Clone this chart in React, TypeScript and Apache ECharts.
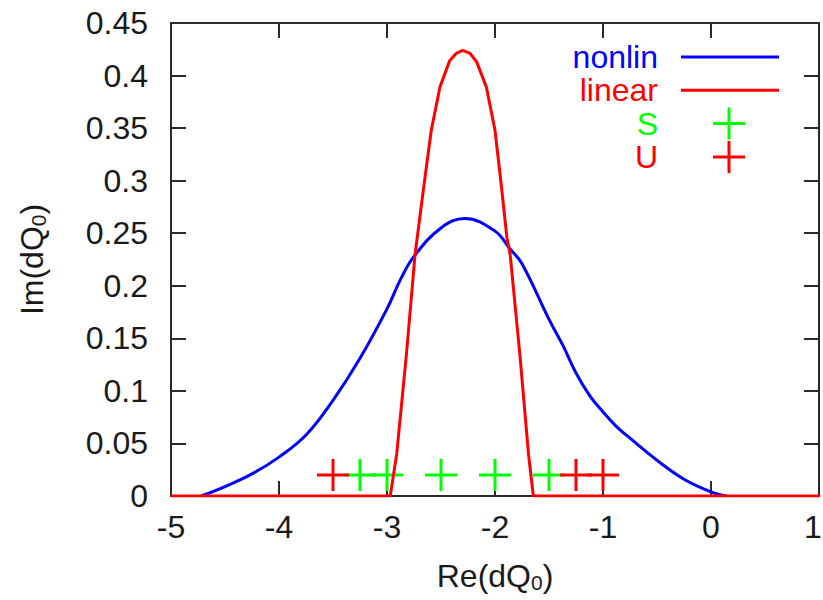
import React, { useEffect, useRef } from 'react';
import * as echarts from 'echarts';

const FONT = '"Liberation Sans", Arial, Helvetica, sans-serif';
const TEXT = '#1a1a1a';
const AXIS = '#2a2a2a';

// nonlin curve (blue)
const nonlinX = [-4.72, -4.5, -4.25, -4.0, -3.75, -3.5, -3.25, -3.0, -2.87, -2.75, -2.5, -2.28, -2.0, -1.86, -1.75, -1.5, -1.37, -1.25, -1.12, -1.0, -0.875, -0.75, -0.5, -0.25, 0.0, 0.15];
const nonlinY = [0, 0.009, 0.021, 0.037, 0.058, 0.091, 0.131, 0.178, 0.207, 0.228, 0.255, 0.264, 0.252, 0.235, 0.221, 0.168, 0.143, 0.117, 0.095, 0.08, 0.066, 0.055, 0.034, 0.016, 0.004, 0];

// linear curve (red)
const linearX = [-5, -2.97, -2.91, -2.82, -2.74, -2.66, -2.59, -2.51, -2.42, -2.36, -2.3, -2.23, -2.17, -2.08, -2.0, -1.94, -1.89, -1.86, -1.77, -1.69, -1.645, 1];
const linearY = [0, 0, 0.04, 0.135, 0.23, 0.294, 0.348, 0.389, 0.414, 0.421, 0.424, 0.421, 0.413, 0.389, 0.348, 0.294, 0.246, 0.23, 0.135, 0.04, 0, 0];

// S points (green) and U points (red)
const sX = [-3.25, -3.0, -2.5, -2.0, -1.5];
const sY = [0.02, 0.02, 0.02, 0.02, 0.02];
const uX = [-3.5, -1.25, -1.0];
const uY = [0.02, 0.02, 0.02];

const seriesNames = ['nonlin', 'linear', 'S', 'U'];
const seriesColors = ['#0000ff', '#ff0000', '#00ff00', '#ff0000'];

const X_MAX = 1;

const PLUS = 'path://M14.5,0H17.5V14.5H32V17.5H17.5V32H14.5V17.5H0V14.5H14.5Z';
// legend icons: box 116x32, corner dots keep bbox
const LEG_LINE = 'path://M0,0L0.01,0L0,0.01ZM116,32L115.99,32L116,31.99ZM18,14.5H116V17.5H18Z';
const LEG_PLUS = 'path://M0,0L0.01,0L0,0.01ZM116,32L115.99,32L116,31.99ZM64.5,0H67.5V14.5H82V17.5H67.5V32H64.5V17.5H50V14.5H64.5Z';

const zip = (xs: number[], ys: number[]) => xs.map((x, i) => [x, ys[i]]);

export default function App() {
  const ref = useRef<HTMLDivElement>(null);
  useEffect(() => {
    const chart = echarts.init(ref.current!, null, { renderer: 'svg' });
    const axisCommon = {
      axisLine: { show: true, onZero: false, lineStyle: { color: AXIS, width: 2 } },
      axisTick: { show: true, inside: true, length: 15, lineStyle: { color: AXIS, width: 2 } },
      splitLine: { show: false },
    };
    const nameRich = {
      m: { fontSize: 32, fontFamily: FONT, color: TEXT },
      sub: { fontSize: 21, fontFamily: FONT, color: TEXT, padding: [14, 0, 0, 0] },
    };
    chart.setOption({
      animation: false,
      backgroundColor: '#ffffff',
      textStyle: { fontFamily: FONT },
      grid: { left: 171, right: 4, top: 23, bottom: 104, containLabel: false, outerBoundsMode: 'none' },
      xAxis: [
        {
          type: 'value', min: -5, max: X_MAX, interval: 1, position: 'bottom',
          ...axisCommon,
          axisLabel: {
            fontSize: 32, color: TEXT, fontFamily: FONT, margin: 15,
            formatter: (v: number) => (v === X_MAX ? '{e|' + v + '}' : String(v)),
            rich: { e: { fontSize: 32, color: TEXT, fontFamily: FONT, padding: [0, 12, 0, 0] } },
          },
          name: '{m|Re(dQ}{sub|0}{m|)}', nameLocation: 'middle', nameGap: 62,
          nameTextStyle: { rich: nameRich },
        },
        {
          type: 'value', min: -5, max: X_MAX, interval: 1, position: 'top',
          ...axisCommon, axisLabel: { show: false },
        },
      ],
      yAxis: [
        {
          type: 'value', min: 0, max: 0.45, interval: 0.05, position: 'left',
          ...axisCommon,
          axisLabel: { fontSize: 32, color: TEXT, fontFamily: FONT, margin: 23 },
          name: '{m|Im(dQ}{sub|0}{m|)}', nameLocation: 'middle', nameGap: 122, nameRotate: 90,
          nameTextStyle: { rich: nameRich },
        },
        {
          type: 'value', min: 0, max: 0.45, interval: 0.05, position: 'right',
          ...axisCommon, axisLabel: { show: false },
        },
      ],
      legend: {
        orient: 'vertical',
        align: 'right',
        right: 44,
        top: 41,
        itemWidth: 116,
        itemHeight: 32,
        itemGap: 1.3,
        padding: 0,
        itemStyle: { borderWidth: 0 },
        textStyle: { fontSize: 32, fontFamily: FONT },
        data: seriesNames.map((n, i) => ({
          name: n,
          icon: i < 2 ? LEG_LINE : LEG_PLUS,
          textStyle: { color: seriesColors[i], fontSize: 32, fontFamily: FONT },
        })),
      },
      series: [
        {
          name: seriesNames[0], type: 'line', data: zip(nonlinX, nonlinY),
          showSymbol: false, symbol: 'none', smooth: 0.4,
          color: seriesColors[0],
          lineStyle: { color: seriesColors[0], width: 3 },
        },
        {
          name: seriesNames[1], type: 'line', data: zip(linearX, linearY),
          showSymbol: false, symbol: 'none',
          color: seriesColors[1],
          lineStyle: { color: seriesColors[1], width: 3 },
        },
        {
          name: seriesNames[2], type: 'scatter', data: zip(sX, sY),
          symbol: PLUS, symbolSize: 32, color: seriesColors[2],
          itemStyle: { color: seriesColors[2], opacity: 1 },
        },
        {
          name: seriesNames[3], type: 'scatter', data: zip(uX, uY),
          symbol: PLUS, symbolSize: 32, color: seriesColors[3],
          itemStyle: { color: seriesColors[3], opacity: 1 },
        },
      ],
    });
    return () => chart.dispose();
  }, []);
  return <div ref={ref} style={{ position: 'fixed', left: 0, top: 0, width: 823, height: 600 }} />;
}
